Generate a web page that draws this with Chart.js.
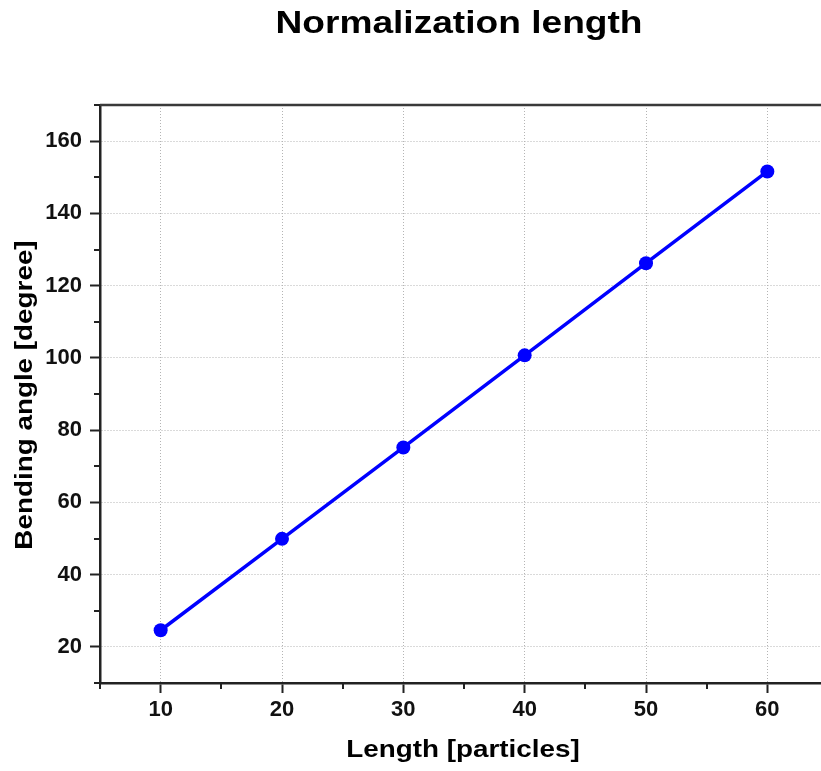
<!DOCTYPE html>
<html>
<head>
<meta charset="utf-8">
<title>Normalization length</title>
<script src="https://cdn.jsdelivr.net/npm/chart.js@4/dist/chart.umd.min.js"></script>
<style>
  html, body { margin: 0; padding: 0; background: #ffffff; overflow: hidden; }
  #wrap { width: 835px; height: 771px; }
</style>
</head>
<body>
<div id="wrap"><canvas id="chart" width="835" height="771"></canvas></div>
<script>
// Series: bending angle against chain length
const lengths = [10, 20, 30, 40, 50, 60];
const bendingAngles = [24.6, 49.9, 75.2, 100.7, 126.2, 151.6];

// Axis ranges and ticks
const xRange = [5, 65];
const xStep = 5;          // minor step, labels every 10
const xLabelEvery = 10;
const yRange = [10, 170];
const yStep = 10;         // minor step, labels every 20
const yLabelEvery = 20;

// Texts
const chartTitle = 'Normalization length';
const xTitle = 'Length [particles]';
const yTitle = 'Bending angle [degree]';

const FONT = '"Liberation Sans", Arial, Helvetica, sans-serif';
const AXIS_COLOR = '#222222';
const GRID_COLOR = '#b4b4b4';
const SERIES_COLOR = '#0000ff';

const isMajor = (v, every) => Math.abs(v % every) < 1e-9;

// Short tick marks for the unlabeled steps, plus the frame line on top
const minorTicks = {
  id: 'minorTicks',
  afterDraw(chart) {
    const { ctx, chartArea, scales } = chart;
    ctx.save();
    ctx.strokeStyle = AXIS_COLOR;
    ctx.lineWidth = 2;
    for (let v = xRange[0]; v <= xRange[1]; v += xStep) {
      if (isMajor(v, xLabelEvery)) continue;
      const px = Math.round(scales.x.getPixelForValue(v));
      ctx.beginPath();
      ctx.moveTo(px, chartArea.bottom);
      ctx.lineTo(px, chartArea.bottom + 6);
      ctx.stroke();
    }
    for (let v = yRange[0]; v <= yRange[1]; v += yStep) {
      if (isMajor(v, yLabelEvery)) continue;
      const py = Math.round(scales.y.getPixelForValue(v));
      ctx.beginPath();
      ctx.moveTo(chartArea.left, py);
      ctx.lineTo(chartArea.left - 6, py);
      ctx.stroke();
    }
    // top frame line
    ctx.strokeStyle = '#3a3a3a';
    ctx.lineWidth = 2.5;
    ctx.beginPath();
    ctx.moveTo(chartArea.left, chartArea.top);
    ctx.lineTo(chartArea.right, chartArea.top);
    ctx.stroke();
    ctx.restore();
  }
};

// Draws one line of wide bold text centred on (x, y)
function wideText(ctx, text, x, y, size, stretch, angle) {
  ctx.save();
  ctx.translate(x, y);
  if (angle) ctx.rotate(angle);
  ctx.scale(stretch, 1);
  ctx.font = 'bold ' + size + 'px ' + FONT;
  ctx.fillStyle = '#000000';
  ctx.textAlign = 'center';
  ctx.textBaseline = 'alphabetic';
  ctx.fillText(text, 0, 0);
  ctx.restore();
}

// Chart title and axis titles
const titles = {
  id: 'titles',
  afterDraw(chart) {
    const { ctx, chartArea } = chart;
    const cx = (chartArea.left + chartArea.right) / 2;
    wideText(ctx, chartTitle, cx - 5, 33, 32, 1.16, 0);
    wideText(ctx, xTitle, cx - 1, 757, 23, 1.21, 0);
    wideText(ctx, yTitle, 31.5, 395, 23, 1.21, -Math.PI / 2);
  }
};

new Chart(document.getElementById('chart'), {
  type: 'line',
  data: {
    datasets: [{
      data: lengths.map((x, i) => ({ x, y: bendingAngles[i] })),
      borderColor: SERIES_COLOR,
      backgroundColor: SERIES_COLOR,
      borderWidth: 3.5,
      pointRadius: 7,
      pointBorderWidth: 0,
      pointBackgroundColor: SERIES_COLOR,
      tension: 0,
      fill: false
    }]
  },
  options: {
    responsive: false,
    animation: false,
    events: [],
    layout: { padding: { top: 105, right: 6, left: 0, bottom: 0 } },
    plugins: {
      legend: { display: false },
      title: { display: false },
      tooltip: { enabled: false }
    },
    scales: {
      x: {
        type: 'linear',
        min: xRange[0],
        max: xRange[1],
        afterFit(scale) { scale.height = 88; },
        border: { display: true, color: AXIS_COLOR, width: 2.5, dash: [1, 2] },
        grid: {
          color: c => (c.tick && isMajor(c.tick.value, xLabelEvery)) ? GRID_COLOR : 'rgba(0,0,0,0)',
          tickColor: c => (c.tick && isMajor(c.tick.value, xLabelEvery)) ? AXIS_COLOR : 'rgba(0,0,0,0)',
          lineWidth: 1,
          tickWidth: 2,
          tickLength: 10,
          tickBorderDash: []
        },
        ticks: {
          stepSize: xStep,
          autoSkip: false,
          maxRotation: 0,
          padding: 4,
          color: '#111111',
          font: { family: FONT, size: 22, weight: 'bold' },
          callback: v => isMajor(v, xLabelEvery) ? String(v) : ''
        },
        title: { display: false }
      },
      y: {
        type: 'linear',
        min: yRange[0],
        max: yRange[1],
        afterFit(scale) { scale.width = 100; },
        border: { display: true, color: AXIS_COLOR, width: 2.5, dash: [1, 2] },
        grid: {
          color: c => (c.tick && isMajor(c.tick.value, yLabelEvery)) ? GRID_COLOR : 'rgba(0,0,0,0)',
          tickColor: c => (c.tick && isMajor(c.tick.value, yLabelEvery)) ? AXIS_COLOR : 'rgba(0,0,0,0)',
          lineWidth: 1,
          tickWidth: 2,
          tickLength: 10,
          tickBorderDash: []
        },
        ticks: {
          stepSize: yStep,
          autoSkip: false,
          padding: 8,
          color: '#111111',
          font: { family: FONT, size: 22, weight: 'bold' },
          callback: v => isMajor(v, yLabelEvery) ? String(v) : ''
        },
        title: { display: false }
      }
    }
  },
  plugins: [minorTicks, titles]
});
</script>
</body>
</html>
